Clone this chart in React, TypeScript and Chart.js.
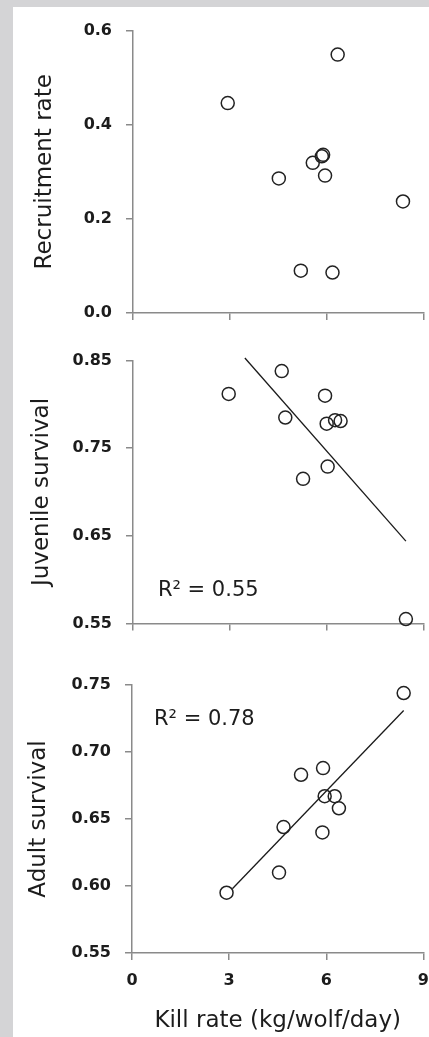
import React, { useEffect, useRef } from "react";
import { Chart, registerables } from "chart.js";
Chart.register(...registerables);

const FONT = "DejaVu Sans";
const TEXT = "#1c1c1c";
const AXIS = "#8a8a8a";

// Panel 1: recruitment rate
const recruitKill = [2.93, 4.51, 5.19, 5.56, 5.84, 5.88, 5.94, 6.17, 6.33, 8.35];
const recruitRate = [0.446, 0.286, 0.09, 0.319, 0.333, 0.336, 0.292, 0.086, 0.549, 0.237];
const recruitTicks = [0.0, 0.2, 0.4, 0.6];

// Panel 2: juvenile survival
const juvKill = [2.96, 4.6, 4.71, 5.26, 5.94, 5.99, 6.02, 6.25, 6.42, 8.44];
const juvSurv = [0.812, 0.838, 0.785, 0.715, 0.81, 0.778, 0.729, 0.782, 0.781, 0.555];
const juvTrendX = [3.46, 8.44];
const juvTrendY = [0.853, 0.644];
const juvTicks = [0.55, 0.65, 0.75, 0.85];
const juvR2 = "R² = 0.55";

// Panel 3: adult survival
const adultKill = [2.92, 4.54, 4.68, 5.22, 5.88, 5.9, 5.95, 6.26, 6.39, 8.39];
const adultSurv = [0.595, 0.61, 0.644, 0.683, 0.64, 0.688, 0.667, 0.667, 0.658, 0.744];
const adultTrendX = [3.1, 8.39];
const adultTrendY = [0.598, 0.731];
const adultTicks = [0.55, 0.6, 0.65, 0.7, 0.75];
const adultR2 = "R² = 0.78";

const xTicks = [0, 3, 6, 9];
const xTitle = "Kill rate (kg/wolf/day)";

type PanelProps = {
  top: number;
  height: number;
  padTop: number;
  axisLeft: number;
  xHeight: number;
  xs: number[];
  ys: number[];
  trendX?: number[];
  trendY?: number[];
  yMin: number;
  yMax: number;
  yTicks: number[];
  decimals: number;
  yTitle: string;
  yTitlePad: number;
  r2?: string;
  r2At?: { x: number; y: number };
  showXLabels: boolean;
};

function Panel(p: PanelProps) {
  const ref = useRef<HTMLCanvasElement | null>(null);
  useEffect(() => {
    if (!ref.current) return;
    const pts = p.xs.map((x, i) => ({ x, y: p.ys[i] }));
    const datasets: any[] = [
      {
        data: pts,
        pointRadius: 6.5,
        pointHoverRadius: 6.5,
        pointBorderWidth: 1.5,
        borderColor: "#222",
        backgroundColor: "rgba(0,0,0,0)",
        clip: false,
      },
    ];
    if (p.trendX && p.trendY) {
      datasets.push({
        type: "line",
        data: p.trendX.map((x, i) => ({ x, y: p.trendY![i] })),
        showLine: true,
        borderColor: "#1a1a1a",
        borderWidth: 1.3,
        pointRadius: 0,
        fill: false,
        clip: false,
      });
    }
    const r2Plugin = {
      id: "r2label",
      afterDatasetsDraw(chart: any) {
        if (!p.r2 || !p.r2At) return;
        const ctx = chart.ctx;
        const px = chart.scales.x.getPixelForValue(p.r2At.x);
        const py = chart.scales.y.getPixelForValue(p.r2At.y);
        ctx.save();
        ctx.font = `21px "${FONT}"`;
        ctx.fillStyle = TEXT;
        ctx.textAlign = "left";
        ctx.textBaseline = "alphabetic";
        ctx.fillText(p.r2, px, py);
        ctx.restore();
      },
    };
    const tickFont = { family: FONT, size: 16, weight: "bold" as const };
    const chart = new Chart(ref.current, {
      type: "scatter",
      data: { datasets },
      plugins: [r2Plugin],
      options: {
        animation: false,
        responsive: false,
        maintainAspectRatio: false,
        devicePixelRatio: 1,
        layout: { padding: { top: p.padTop, right: 16, left: 0, bottom: 0 } },
        plugins: { legend: { display: false }, tooltip: { enabled: false } },
        scales: {
          x: {
            type: "linear",
            min: 0,
            max: 9,
            afterBuildTicks: (s: any) => {
              s.ticks = xTicks.map((v) => ({ value: v }));
            },
            afterFit: (s: any) => {
              s.height = p.xHeight;
            },
            border: { display: true, color: AXIS, width: 1.5 },
            grid: {
              display: true,
              drawOnChartArea: false,
              drawTicks: true,
              tickLength: 7,
              color: AXIS,
              lineWidth: 1.5,
            },
            ticks: {
              display: p.showXLabels,
              padding: 11,
              color: TEXT,
              font: tickFont,
              callback: (v: any) => String(v),
            },
            title: {
              display: p.showXLabels,
              text: xTitle,
              color: TEXT,
              font: { family: FONT, size: 23 },
              padding: { top: 0, bottom: 2 },
            },
          },
          y: {
            type: "linear",
            min: p.yMin,
            max: p.yMax,
            afterBuildTicks: (s: any) => {
              s.ticks = p.yTicks.map((v) => ({ value: v }));
            },
            afterFit: (s: any) => {
              s.width = p.axisLeft;
            },
            border: { display: true, color: AXIS, width: 1.5 },
            grid: {
              display: true,
              drawOnChartArea: false,
              drawTicks: true,
              tickLength: 7,
              color: AXIS,
              lineWidth: 1.5,
            },
            ticks: {
              padding: 14,
              color: TEXT,
              font: tickFont,
              callback: (v: any) => Number(v).toFixed(p.decimals),
            },
            title: {
              display: true,
              text: p.yTitle,
              color: TEXT,
              font: { family: FONT, size: 23 },
              padding: { top: p.yTitlePad, bottom: 0 },
            },
          },
        },
      } as any,
    });
    return () => chart.destroy();
  }, []);
  return (
    <canvas
      ref={ref}
      width={440}
      height={p.height}
      style={{ position: "absolute", left: 0, top: p.top, width: 440, height: p.height }}
    />
  );
}

export default function App() {
  return (
    <div
      style={{
        position: "absolute",
        left: 0,
        top: 0,
        width: 429,
        height: 1037,
        overflow: "hidden",
        background: "#d4d4d6",
      }}
    >
      <div
        style={{
          position: "absolute",
          left: 13,
          top: 7,
          width: 430,
          height: 1040,
          background: "#ffffff",
        }}
      />
      <Panel
        top={7}
        height={330}
        padTop={18}
        axisLeft={133}
        xHeight={24}
        xs={recruitKill}
        ys={recruitRate}
        yMin={0}
        yMax={0.6}
        yTicks={recruitTicks}
        decimals={1}
        yTitle="Recruitment rate"
        yTitlePad={31}
        showXLabels={false}
      />
      <Panel
        top={337}
        height={310}
        padTop={21}
        axisLeft={133}
        xHeight={22}
        xs={juvKill}
        ys={juvSurv}
        trendX={juvTrendX}
        trendY={juvTrendY}
        yMin={0.55}
        yMax={0.85}
        yTicks={juvTicks}
        decimals={2}
        yTitle="Juvenile survival"
        yTitlePad={28}
        r2={juvR2}
        r2At={{ x: 0.77, y: 0.5815 }}
        showXLabels={false}
      />
      <Panel
        top={647}
        height={390}
        padTop={38}
        axisLeft={132}
        xHeight={84}
        xs={adultKill}
        ys={adultSurv}
        trendX={adultTrendX}
        trendY={adultTrendY}
        yMin={0.55}
        yMax={0.75}
        yTicks={adultTicks}
        decimals={2}
        yTitle="Adult survival"
        yTitlePad={25}
        r2={adultR2}
        r2At={{ x: 0.68, y: 0.72 }}
        showXLabels={true}
      />
    </div>
  );
}
